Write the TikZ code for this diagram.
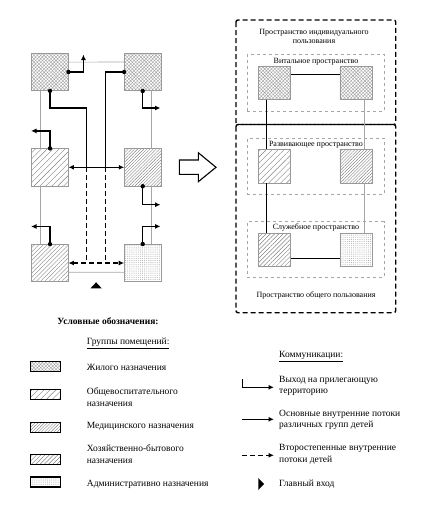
\documentclass[tikz,border=0pt]{standalone}
\usepackage{fontspec}
\setmainfont{Liberation Serif}
\usetikzlibrary{arrows.meta,patterns.meta,calc}
\begin{document}
\begin{tikzpicture}[x=1pt,y=-1pt,
  room/.style={draw=gray!80, line width=0.6pt, minimum width=36.5pt, minimum height=37.4pt, inner sep=0pt},
  sroom/.style={room, minimum width=32.4pt, minimum height=33.3pt},
  swatch/.style={draw=black, line width=1.3pt, minimum width=30pt, minimum height=10pt, inner sep=0pt},
  live/.style={pattern={Hatch[angle=45,distance=2.4pt,line width=0.4pt]}, pattern color=gray!75},
  edu/.style={pattern={Lines[angle=45,distance=4.2pt,line width=0.4pt]}, pattern color=gray},
  med/.style={pattern={Lines[angle=45,distance=2.2pt,line width=0.4pt]}, pattern color=gray},
  hous/.style={pattern={Lines[angle=45,distance=3pt,line width=0.4pt]}, pattern color=gray},
  adm/.style={pattern={Dots[distance=1.9pt,radius=0.4pt]}, pattern color=gray!80},
  conn/.style={line width=1.4pt, -{Latex[length=5.5pt,width=5pt]}},
  both/.style={line width=1.4pt, {Latex[length=5.5pt,width=5pt]}-{Latex[length=5.5pt,width=5pt]}},
  dconn/.style={both, dash pattern=on 5pt off 3pt},
  plain/.style={line width=1.4pt},
  dplain/.style={line width=1.4pt, dash pattern=on 5pt off 3pt},
  grayline/.style={draw=gray!70, line width=0.6pt},
  blackline/.style={draw=black, line width=0.6pt},
  frame/.style={draw=gray!70, dashed, line width=0.6pt, minimum width=136.7pt, inner sep=0pt},
  outer/.style={line width=1.4pt, dash pattern=on 5pt off 3pt, rounded corners=2pt},
  small/.style={font=\fontsize{8}{9}\selectfont, align=center, inner sep=0pt},
  lbl/.style={font=\fontsize{9.5}{11.6}\selectfont, align=left, anchor=west, inner sep=0pt},
  dotm/.style={fill=black}
]
\useasboundingbox (0,0) rectangle (431,517);

% ---------- left scheme ----------
\node[room, live] (TL) at (50,72) {};
\node[room, live] (TR) at (142.7,72) {};
\node[room, edu]  (ML) at (50,167.3) {};
\node[room, med]  (MR) at (142.7,167.3) {};
\node[room, hous] (BL) at (50,263) {};
\node[room, adm]  (BR) at (142.7,263) {};

% gray links
\draw[grayline] ($(TL.north east)+(0,9)$) -- ($(TR.north west)+(0,9)$);
\draw[grayline] ($(TL.south)+(-9.5,0)$) -- ($(ML.north)+(-9.5,0)$);
\draw[grayline] ($(ML.south)+(-9.5,0)$) -- ($(BL.north)+(-9.5,0)$);
\draw[grayline] ($(TR.south)+(9,0)$) -- ($(MR.north)+(9,0)$);
\draw[grayline] ($(MR.south)+(9,0)$) -- ($(BR.north)+(9,0)$);
\draw[grayline] ($(BL.south east)+(0,-9.7)$) -- ($(BR.south west)+(0,-9.7)$);

% junctions
\coordinate (J1) at (86.7,167.3);
\coordinate (J2) at (105.3,167.3);
\coordinate (K1) at (86.7,263);
\coordinate (K2) at (105.3,263);

% main flows
\draw[plain] (TL.south) -- ++(0,17) -| (J1);
\draw[plain] (TR.west) -| (J2);
\draw[both] (ML.east) -- (MR.west);
\draw[dplain] (J1) -- (K1);
\draw[dplain] (J2) -- (K2);
\draw[dconn] (BL.east) -- (BR.west);

% exits
\draw[conn] (TL.east) -- ++(15,0) -- ++(0,-17.5);
\draw[conn] (TR.south) -- ++(0,17) -- ++(17.8,0);
\draw[conn] (MR.south) -- ++(0,18.5) -- ++(17.8,0);
\draw[conn] (BR.north) -- ++(0,-17.6) -- ++(17.8,0);
\draw[conn] (ML.north) -- ++(0,-17.5) -- ++(-19,0);
\draw[conn] (BL.north) -- ++(0,-17.6) -- ++(-19,0);

% dots
\foreach \p in {TL.east,TL.south,TR.west,TR.south,MR.south,BR.north,ML.north,BL.north}
  \fill[dotm] (\p) circle (2.2pt);

% main entrance
\fill (90.5,288.3) -- (101.7,288.3) -- (96.1,282.3) -- cycle;

% hollow arrow
\draw[line width=1.1pt, line join=miter] (179.3,160) -- (198.3,160) -- (198.3,152.7) -- (216,167.3) -- (198.3,181.7) -- (198.3,174.3) -- (179.3,174.3) -- cycle;

% ---------- right scheme ----------
\draw[outer] (236,20) rectangle (395.7,124.5);
\draw[outer] (236,124.5) rectangle (395.7,312.7);
\node[small] (tInd) at (314,36.2) {Пространство индивидуального\\пользования};

\node[frame, minimum height=57pt] (FV) at (315.65,82.5) {};
\node[frame, minimum height=56pt] (FR) at (315.65,166.3) {};
\node[frame, minimum height=55.6pt] (FS) at (315.65,249.5) {};
\node[small] (tV) at (316,61.8) {Витальное пространство};
\node[small] (tR) at (316,144.6) {Развивающее пространство};
\node[small] (tS) at (316,227.8) {Служебное пространство};
\node[small] (tOb) at (316,295) {Пространство общего пользования};

\node[sroom, live] (V1) at (274.5,82.7) {};
\node[sroom, live] (V2) at (356,82.7) {};
\node[sroom, edu]  (R1) at (274.5,166.3) {};
\node[sroom, med]  (R2) at (356,166.3) {};
\node[sroom, hous] (S1) at (274.5,250) {};
\node[sroom, adm]  (S2) at (356,250) {};

\draw[blackline] ($(V1.east)+(0,-8.7)$) -- ($(V2.west)+(0,-8.7)$);
\draw[blackline] ($(V1.south)+(-7.8,0)$) -- ($(R1.north)+(-7.8,0)$);
\draw[blackline] ($(R1.south)+(-7.8,0)$) -- ($(S1.north)+(-7.8,0)$);
\draw[grayline] ($(V2.south)+(8,0)$) -- ($(R2.north)+(8,0)$);
\draw[grayline] ($(R2.south)+(8,0)$) -- ($(S2.north)+(8,0)$);
\draw[blackline] ($(S1.east)+(0,8.3)$) -- ($(S2.west)+(0,8.3)$);

% ---------- legend ----------
\node[font=\bfseries\fontsize{9.5}{11}\selectfont, inner sep=0pt] (title) at (108,320.7) {Условные обозначения:};
\node[lbl] (hGr) at (86.7,343.3) {\underline{Группы помещений:}};

\node[swatch, live] (s1) at (45.5,366.3) {};
\node[swatch, edu]  (s2) at (45.5,394.2) {};
\node[swatch, med]  (s3) at (45.5,427.2) {};
\node[swatch, hous] (s4) at (45.5,459.2) {};
\node[swatch, adm]  (s5) at (45.5,482) {};
\node[lbl] (l1) at (86.7,367.7) {Жилого назначения};
\node[lbl] (l2) at (86.7,396.9) {Общевоспитательного\\назначения};
\node[lbl] (l3) at (86.7,426.7) {Медицинского назначения};
\node[lbl] (l4) at (86.7,453.9) {Хозяйственно-бытового\\назначения};
\node[lbl] (l5) at (86.7,484) {Административно назначения};

\node[lbl] (hCm) at (279,356.7) {\underline{Коммуникации:}};
\coordinate (a1s) at (242.3,379.3);
\coordinate (a1e) at (274,387.3);
\draw[conn] (a1s) |- (a1e);
\coordinate (a2s) at (242.3,419.3);
\coordinate (a2e) at (274,419.3);
\draw[conn] (a2s) -- (a2e);
\coordinate (a3s) at (242.3,455.3);
\coordinate (a3e) at (274,455.3);
\draw[conn, dash pattern=on 5pt off 3pt] (a3s) -- (a3e);
\fill (258.3,478) -- (264,484) -- (258.3,490) -- cycle;
\node[lbl] (c1) at (279,385.8) {Выход на прилегающую\\территорию};
\node[lbl] (c2) at (279,420) {Основные внутренние потоки\\различных групп детей};
\node[lbl] (c3) at (279,454.5) {Второстепенные внутренние\\потоки детей};
\node[lbl] (c4) at (279,484) {Главный вход};
\end{tikzpicture}
\end{document}
